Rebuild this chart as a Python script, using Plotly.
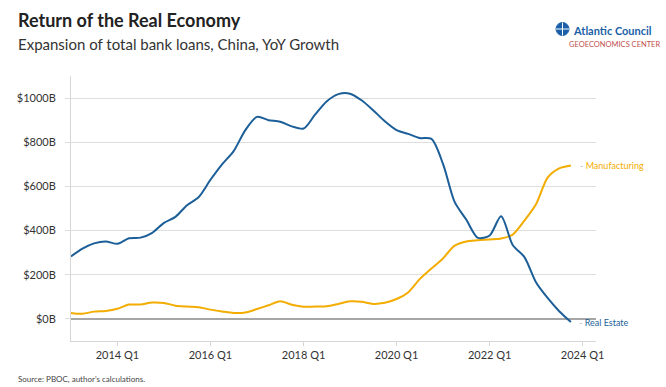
import pandas as pd
import plotly.graph_objects as go

quarters = [f"{y} Q{q}" for y in range(2013, 2024) for q in range(1, 5)]

real_estate = [283, 318, 342, 351, 340, 365, 368, 390, 435, 462, 515, 552,
               630, 700, 760, 855, 915, 900, 893, 872, 862, 925, 985, 1018,
               1020, 990, 945, 895, 855, 838, 819, 815, 700, 530, 450, 367,
               378, 465, 335, 280, 165, 95, 35, -14]

manufacturing = [27, 23, 33, 36, 46, 65, 65, 74, 72, 60, 56, 53,
                 42, 34, 27, 29, 45, 62, 80, 64, 55, 56, 57, 68,
                 80, 78, 68, 73, 90, 120, 180, 228, 275, 332, 351, 356,
                 360, 364, 382, 445, 520, 640, 682, 695]

tick_quarters = ["2014 Q1", "2016 Q1", "2018 Q1", "2020 Q1", "2022 Q1", "2024 Q1"]
y_ticks = [0, 200, 400, 600, 800, 1000]
y_labels = [f"${v}B" for v in y_ticks]


def q_to_date(q):
    y, qq = q.split(" Q")
    return pd.Timestamp(year=int(y), month=(int(qq) - 1) * 3 + 1, day=1)


x = [q_to_date(q) for q in quarters]
tick_x = [q_to_date(q) for q in tick_quarters]

BLUE = "#1c5f98"
GOLD = "#f3ac00"
FONT = "Lato"

fig = go.Figure()
fig.add_trace(go.Scatter(x=x, y=manufacturing, mode="lines", line=dict(color=GOLD, width=2, shape="spline", smoothing=0.8),
                         name="Manufacturing", hoverinfo="skip"))
fig.add_trace(go.Scatter(x=x, y=real_estate, mode="lines", line=dict(color=BLUE, width=2, shape="spline", smoothing=0.8),
                         name="Real Estate", hoverinfo="skip"))

fig.update_layout(
    width=666, height=387,
    margin=dict(l=71, r=70, t=76, b=46),
    paper_bgcolor="white", plot_bgcolor="white",
    showlegend=False,
    font=dict(family=FONT, color="#333333", size=11),
    xaxis=dict(
        range=[pd.Timestamp("2013-01-01"), pd.Timestamp("2024-04-15")],
        tickvals=tick_x, ticktext=tick_quarters,
        showgrid=False, zeroline=False,
        showline=True, linecolor="#d6d6d6", linewidth=1,
        ticks="outside", ticklen=4, tickcolor="#d6d6d6",
        tickfont=dict(size=11, color="#333333", family=FONT),
    ),
    yaxis=dict(
        range=[-100, 1100],
        tickvals=y_ticks, ticktext=y_labels,
        showgrid=True, gridcolor="#dedede", gridwidth=1,
        zeroline=True, zerolinecolor="#a6a6a6", zerolinewidth=2,
        showline=True, linecolor="#d6d6d6", linewidth=1,
        ticks="outside", ticklen=5, tickcolor="#dedede",
        ticklabelstandoff=7,
        tickfont=dict(size=11, color="#333333", family=FONT),
    ),
)


def px_x(px):
    return (px - 71) / 525


def px_y(py):
    return (341 - py) / 265


annos = [
    dict(text="<b>Return of the Real Economy</b>", x=px_x(16), y=px_y(20),
         font=dict(size=18, color="#222222", family=FONT)),
    dict(text="Expansion of total bank loans, China, YoY Growth", x=px_x(16), y=px_y(44),
         font=dict(size=15, color="#333333", family=FONT)),
    dict(text="Source: PBOC, author's calculations.", x=px_x(16), y=px_y(379),
         font=dict(size=8, color="#444444", family=FONT)),
    dict(text="<b>Atlantic Council</b>", x=px_x(571), y=px_y(30),
         font=dict(size=11, color="#1a5fa8", family=FONT)),
    dict(text="GEOECONOMICS CENTER", x=px_x(567), y=px_y(44),
         font=dict(size=7.5, color="#c0504d", family=FONT)),
]
for a in annos:
    fig.add_annotation(xref="paper", yref="paper", xanchor="left", yanchor="middle",
                       showarrow=False, **a)

fig.add_annotation(x=x[-1], y=manufacturing[-1], xref="x", yref="y", xanchor="left", yanchor="middle",
                   xshift=7, showarrow=False,
                   text="<span style='color:#bbbbbb'>-</span> Manufacturing",
                   font=dict(size=9, color=GOLD, family=FONT))
fig.add_annotation(x=x[-1], y=real_estate[-1], xref="x", yref="y", xanchor="left", yanchor="middle",
                   xshift=6, showarrow=False,
                   text="<span style='color:#bbbbbb'>-</span> Real Estate",
                   font=dict(size=9, color=BLUE, family=FONT))

# globe icon for logo
fig.add_shape(type="circle", xref="paper", yref="paper",
              x0=px_x(556), x1=px_x(569), y0=px_y(35.5), y1=px_y(22.5),
              fillcolor="#1a5fa8", line=dict(color="#1a5fa8", width=1))
fig.add_shape(type="line", xref="paper", yref="paper",
              x0=px_x(556), x1=px_x(569), y0=px_y(29), y1=px_y(29),
              line=dict(color="white", width=1))
fig.add_shape(type="line", xref="paper", yref="paper",
              x0=px_x(562.5), x1=px_x(562.5), y0=px_y(35.5), y1=px_y(22.5),
              line=dict(color="white", width=1))

fig.write_html("out.html", config={"displayModeBar": False},
               post_script="document.body.style.margin='0';")
